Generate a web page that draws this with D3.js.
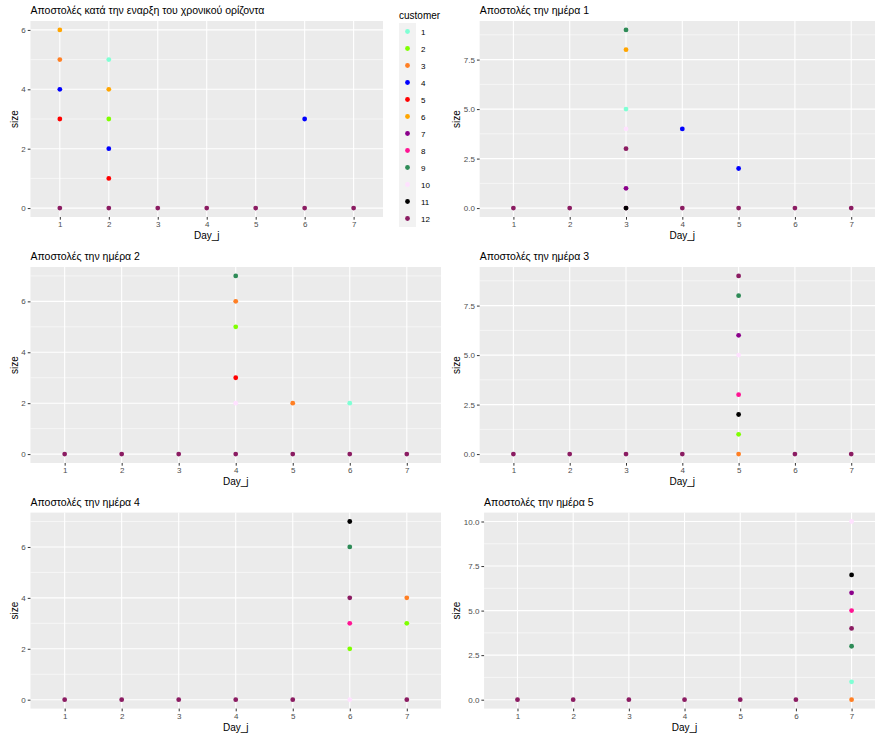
<!DOCTYPE html>
<html>
<head>
<meta charset="utf-8">
<script src="https://cdn.jsdelivr.net/npm/d3@7"></script>
<style>
body { margin: 0; background: #fff; }
svg { display: block; font-family: "Liberation Sans", Arial, sans-serif; }
.tick line { stroke: #333; }
.tick text { fill: #4d4d4d; font-size: 8px; }
.domain { display: none; }
</style>
</head>
<body>
<div id="chart"></div>
<script>
// customers and their colours
var customers = ['1','2','3','4','5','6','7','8','9','10','11','12'];
var customerColors = ['#7fffd4','#7fff00','#ff7f24','#0000ff','#ff0000','#ffa500',
  '#8b008b','#ff1493','#2e8b57','#ffe1ff','#000000','#8b1c62'];
var days = [1,2,3,4,5,6,7];

var panelTitles = [
  'Αποστολές κατά την εναρξη του χρονικού ορίζοντα',
  'Αποστολές την ημέρα 1',
  'Αποστολές την ημέρα 2',
  'Αποστολές την ημέρα 3',
  'Αποστολές την ημέρα 4',
  'Αποστολές την ημέρα 5'
];

// panel 0: start of horizon
var start_day  = [1,2,3,4,5,6,7, 1,1,1,1, 2,2,2,2,2, 6];
var start_size = [0,0,0,0,0,0,0, 6,5,4,3, 5,4,3,2,1, 3];
var start_cust = [12,12,12,12,12,12,12, 6,3,4,5, 1,6,2,4,5, 4];

// panel 1: day 1
var d1_day  = [1,2,3,4,5,6,7, 3,3,3,3,3,3,3, 4, 5];
var d1_size = [0,0,0,0,0,0,0, 9,8,5,4,3,1,0, 4, 2];
var d1_cust = [12,12,12,12,12,12,12, 9,6,1,10,12,7,11, 4, 4];

// panel 2: day 2
var d2_day  = [1,2,3,4,5,6,7, 4,4,4,4,4, 5, 6];
var d2_size = [0,0,0,0,0,0,0, 7,6,5,3,2, 2, 2];
var d2_cust = [12,12,12,12,12,12,12, 9,3,2,5,10, 3, 1];

// panel 3: day 3
var d3_day  = [1,2,3,4,6,7, 5,5,5,5,5,5,5,5];
var d3_size = [0,0,0,0,0,0, 9,8,6,5,3,2,1,0];
var d3_cust = [12,12,12,12,12,12, 12,9,7,10,8,11,2,3];

// panel 4: day 4
var d4_day  = [1,2,3,4,5, 6,6,6,6,6,6, 7,7,7];
var d4_size = [0,0,0,0,0, 7,6,4,3,2,0, 4,3,0];
var d4_cust = [12,12,12,12,12, 11,9,12,8,2,10, 3,2,12];

// panel 5: day 5
var d5_day  = [1,2,3,4,5,6, 7,7,7,7,7,7,7,7];
var d5_size = [0,0,0,0,0,0, 10,7,6,5,4,3,1,0];
var d5_cust = [12,12,12,12,12,12, 10,11,7,8,12,9,1,3];

var yMax = [6, 9, 7, 9, 7, 10];
var yTicks = [
  [0,2,4,6],
  [0,2.5,5,7.5],
  [0,2,4,6],
  [0,2.5,5,7.5],
  [0,2,4,6],
  [0,2.5,5,7.5,10]
];
var yTickLabels = [
  ['0','2','4','6'],
  ['0.0','2.5','5.0','7.5'],
  ['0','2','4','6'],
  ['0.0','2.5','5.0','7.5'],
  ['0','2','4','6'],
  ['0.0','2.5','5.0','7.5','10.0']
];

var panelData = [
  [start_day, start_size, start_cust],
  [d1_day, d1_size, d1_cust],
  [d2_day, d2_size, d2_cust],
  [d3_day, d3_size, d3_cust],
  [d4_day, d4_size, d4_cust],
  [d5_day, d5_size, d5_cust]
];

var width = 875, height = 735;
var colX = [0, 442.5];
var colRight = [441, 885];
var rowTop = [21, 267, 512.6];
var panelH = 196;
var pointR = 2.4;

var color = d3.scaleOrdinal().domain(customers).range(customerColors);

var svg = d3.select('#chart').append('svg')
  .attr('width', width)
  .attr('height', height);

var textWidth = function (s, size) {
  var t = svg.append('text').style('font-size', size + 'px').text(s);
  var w = t.node().getComputedTextLength();
  t.remove();
  return w;
};

var drawPanel = function (i) {
  var col = i % 2, row = Math.floor(i / 2);
  var cellX = colX[col];
  var labW = d3.max(yTickLabels[i], function (s) { return textWidth(s, 8); });
  var left = cellX + 21 + labW + 5;
  var right = (i === 0) ? 383 : colRight[col];
  var top = rowTop[row], bottom = top + panelH;

  var x = d3.scaleLinear().domain([days[0] - 0.6, days[days.length - 1] + 0.6]).range([left, right]);
  var ext = yMax[i] * 0.05;
  var y = d3.scaleLinear().domain([-ext, yMax[i] + ext]).range([bottom, top]);

  var g = svg.append('g');
  g.append('rect')
    .attr('x', left).attr('y', top)
    .attr('width', right - left).attr('height', bottom - top)
    .attr('fill', '#ebebeb');

  // minor grid lines halfway between the major ones
  var ticks = yTicks[i];
  var step = ticks[1] - ticks[0];
  var minor = [];
  for (var v = ticks[0] - step / 2; v <= yMax[i] + ext; v += step) {
    if (v >= -ext) minor.push(v);
  }
  g.selectAll('line.minor').data(minor).enter().append('line')
    .attr('x1', left).attr('x2', right)
    .attr('y1', function (d) { return y(d); }).attr('y2', function (d) { return y(d); })
    .attr('stroke', '#fff').attr('stroke-width', 0.55);
  g.selectAll('line.majorY').data(ticks).enter().append('line')
    .attr('x1', left).attr('x2', right)
    .attr('y1', function (d) { return y(d); }).attr('y2', function (d) { return y(d); })
    .attr('stroke', '#fff').attr('stroke-width', 1.1);
  g.selectAll('line.majorX').data(days).enter().append('line')
    .attr('y1', top).attr('y2', bottom)
    .attr('x1', function (d) { return x(d); }).attr('x2', function (d) { return x(d); })
    .attr('stroke', '#fff').attr('stroke-width', 1.1);

  var dd = panelData[i];
  var pts = dd[0].map(function (d, k) { return {day: d, size: dd[1][k], cust: String(dd[2][k])}; });
  g.selectAll('circle.pt').data(pts).enter().append('circle')
    .attr('cx', function (d) { return x(d.day); })
    .attr('cy', function (d) { return y(d.size); })
    .attr('r', pointR)
    .attr('fill', function (d) { return color(d.cust); });

  g.append('g')
    .attr('transform', 'translate(0,' + bottom + ')')
    .call(d3.axisBottom(x).tickValues(days).tickFormat(d3.format('d')).tickSize(2.7).tickPadding(2));
  g.append('g')
    .attr('transform', 'translate(' + left + ',0)')
    .call(d3.axisLeft(y).tickValues(ticks).tickFormat(function (d, k) { return yTickLabels[i][k]; })
      .tickSize(2.7).tickPadding(2));

  g.append('text')
    .attr('x', (left + right) / 2).attr('y', bottom + 22)
    .attr('text-anchor', 'middle')
    .style('font-size', '10px')
    .text('Day_j');
  g.append('text')
    .attr('transform', 'translate(' + (cellX + 17.5) + ',' + ((top + bottom) / 2) + ') rotate(-90)')
    .attr('text-anchor', 'middle')
    .style('font-size', '10px')
    .text('size');
  g.append('text')
    .attr('x', left).attr('y', top - 7)
    .style('font-size', '10.5px')
    .text(panelTitles[i]);
};

for (var i = 0; i < 6; i++) drawPanel(i);

// legend
var lg = svg.append('g');
var keyX = 399, keyY = 23, keyH = 17;
lg.append('text')
  .attr('x', keyX).attr('y', 19)
  .style('font-size', '10px')
  .text('customer');
lg.append('rect')
  .attr('x', keyX).attr('y', keyY)
  .attr('width', 17).attr('height', keyH * customers.length)
  .attr('fill', '#f2f2f2');
var items = lg.selectAll('g.item').data(customers).enter().append('g')
  .attr('transform', function (d, k) { return 'translate(' + keyX + ',' + (keyY + k * keyH) + ')'; });
items.append('circle')
  .attr('cx', 8.5).attr('cy', keyH / 2)
  .attr('r', pointR)
  .attr('fill', function (d) { return color(d); });
items.append('text')
  .attr('x', 22).attr('y', keyH / 2 + 3)
  .style('font-size', '8px')
  .attr('fill', '#000')
  .text(function (d) { return d; });
</script>
</body>
</html>
